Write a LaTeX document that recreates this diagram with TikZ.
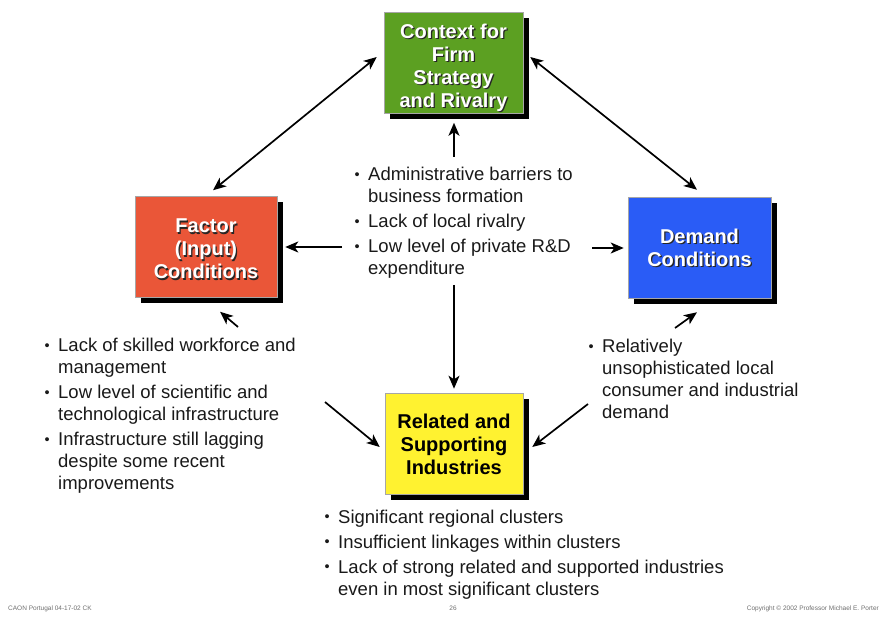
\documentclass[tikz,border=0pt]{standalone}
\usepackage{fontspec}
\setmainfont{Liberation Sans}
\usetikzlibrary{arrows.meta,calc}

\definecolor{firmgreen}{RGB}{92,160,34}
\definecolor{factorred}{RGB}{234,86,56}
\definecolor{demandblue}{RGB}{42,92,246}
\definecolor{relyellow}{RGB}{255,242,48}
\definecolor{bodytext}{RGB}{25,25,25}
\definecolor{footgray}{RGB}{110,110,110}

% small bullet hung in the left margin of a paragraph
\newcommand{\bitem}{\par\noindent\llap{\raisebox{1.2pt}{\fontsize{14.5}{14.5}\selectfont\textbullet}\hspace{8.5pt}}}
% a block of bullet points whose first baseline is the node's base
\newcommand{\bulletblock}[2]{\parbox[t]{#1}{\fontsize{18.5}{22}\selectfont
  \setlength{\parskip}{3pt}\raggedright #2}}

\tikzset{
  box/.style={draw=gray!70, line width=0.5pt, minimum width=#1, minimum height=101pt,
    inner sep=0pt,
    preaction={fill=black, transform canvas={shift={(6pt,-6pt)}}}},
  boxtext/.style={align=center, inner sep=0pt,
    font=\fontsize{20}{23}\selectfont\bfseries},
  bullets/.style={anchor=base west, inner sep=0pt, text=bodytext},
  link/.style={line width=1.7pt, black,
    -{Stealth[length=13pt,width=11pt,inset=3.5pt]}},
  biglink/.style={link, {Stealth[length=13pt,width=11pt,inset=3.5pt]}-{Stealth[length=13pt,width=11pt,inset=3.5pt]}},
  foot/.style={font=\fontsize{6.5}{8}\selectfont, text=footgray, inner sep=0pt}
}

\begin{document}
\begin{tikzpicture}[x=1pt,y=-1pt]
\useasboundingbox (0,0) rectangle (889,617);

% the four boxes of the diamond
\node[box=139pt, fill=firmgreen]  (firm)    at (453.5,62.5) {};
\node[box=142pt, fill=factorred]  (factor)  at (206,247)    {};
\node[box=143pt, fill=demandblue] (demand)  at (699.5,247.5) {};
\node[box=138pt, fill=relyellow]  (related) at (454,443.5)  {};

% box titles, white ones with a dark text shadow
\node[boxtext, text=black!85] (firmS) at ($(firm.center)+(1.3,6.8)$) {Context for\\Firm\\Strategy\\and Rivalry};
\node[boxtext, text=white]    (firmT) at ($(firm.center)+(0,5.5)$) {Context for\\Firm\\Strategy\\and Rivalry};
\node[boxtext, text=black!85] (factorS) at ($(factor.center)+(1.3,3.3)$) {Factor\\(Input)\\Conditions};
\node[boxtext, text=white]    (factorT) at ($(factor.center)+(0,2)$) {Factor\\(Input)\\Conditions};
\node[boxtext, text=black!85] (demandS) at ($(demand.center)+(1.3,1.3)$) {Demand\\Conditions};
\node[boxtext, text=white]    (demandT) at (demand.center) {Demand\\Conditions};
\node[boxtext, text=black]    (relatedT) at ($(related.center)+(0,1)$) {Related and\\Supporting\\Industries};

% bullet texts
\node[bullets] (ctr) at (368,181) {\bulletblock{220pt}{%
  \bitem Administrative barriers to\\business formation
  \bitem Lack of local rivalry
  \bitem Low level of private R\&D\\expenditure}};
\node[bullets] (lft) at (58,352) {\bulletblock{260pt}{%
  \bitem Lack of skilled workforce and\\management
  \bitem Low level of scientific and\\technological infrastructure
  \bitem Infrastructure still lagging\\despite some recent\\improvements}};
\node[bullets] (rgt) at (602,353) {\bulletblock{220pt}{%
  \bitem Relatively\\unsophisticated local\\consumer and industrial\\demand}};
\node[bullets] (bot) at (338,523) {\bulletblock{420pt}{%
  \bitem Significant regional clusters
  \bitem Insufficient linkages within clusters
  \bitem Lack of strong related and supported industries\\even in most significant clusters}};

% free ends of the single arrows
\coordinate (ctrUp)    at (454,157);
\coordinate (ctrLeft)  at (342,247);
\coordinate (ctrRight) at (592,248);
\coordinate (ctrDown)  at (454,285);
\coordinate (lftUp)    at (238,327);
\coordinate (rgtUp)    at (675,328);
\coordinate (lftIn)    at (325,402);
\coordinate (rgtIn)    at (588,404);

% connectors
\draw[biglink] ($(firm.west)+(-7,-5.5)$) -- ($(factor.north)+(7,-6)$);
\draw[biglink] ($(firm.east)+(7,-5.5)$) -- ($(demand.north)+(-2.5,-7)$);
\draw[link] (ctrUp) -- ($(firm.south)+(0.5,9.5)$);
\draw[link] (ctrLeft) -- ($(factor.east)+(8,0)$);
\draw[link] (ctrRight) -- ($(demand.west)+(-4,0.5)$);
\draw[link] (ctrDown) -- ($(related.north)+(0,-4)$);
\draw[link] (lftUp) -- ($(factor.south)+(14,14)$);
\draw[link] (rgtUp) -- ($(demand.south)+(-2.5,14)$);
\draw[link] (lftIn) -- ($(related.west)+(-5,3.5)$);
\draw[link] (rgtIn) -- ($(related.east)+(9,3.5)$);

% footer
\node[foot, anchor=west] (footL) at (8,609) {CAON Portugal 04-17-02 CK};
\node[foot] (footC) at (453,608) {26};
\node[foot, anchor=east] (footR) at (879,609) {Copyright © 2002 Professor Michael E. Porter};
\end{tikzpicture}
\end{document}
